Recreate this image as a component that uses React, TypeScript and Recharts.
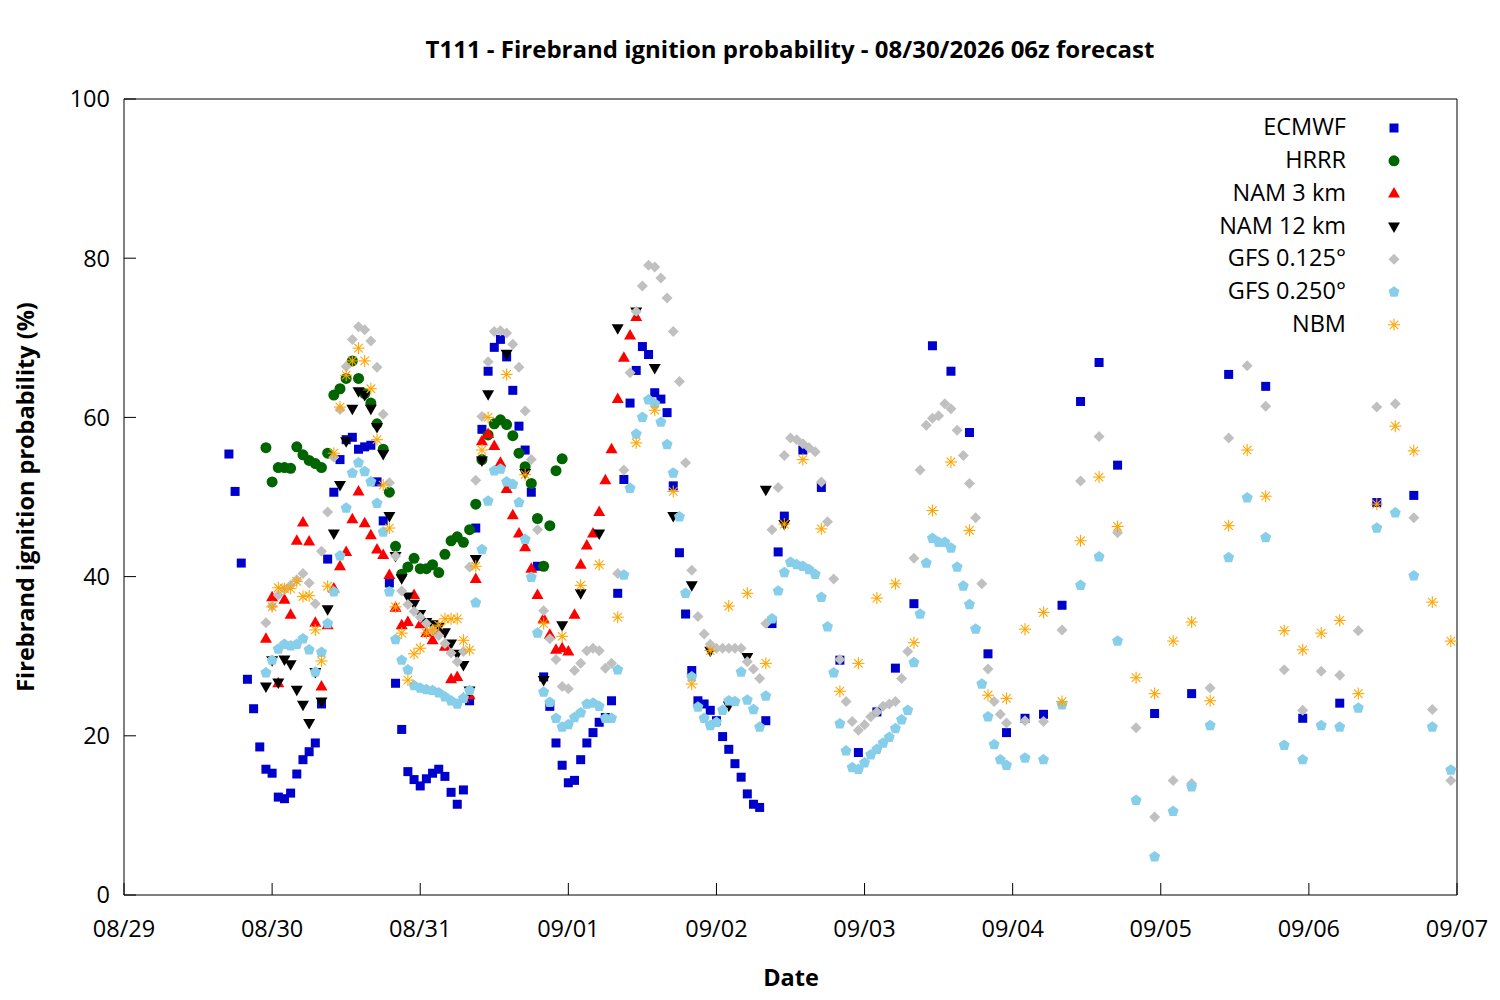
import { ScatterChart, Scatter, XAxis, YAxis } from 'recharts'

// x values are hours since 08/29 00 local time
const dateLabels = ['08/29', '08/30', '08/31', '09/01', '09/02', '09/03', '09/04', '09/05', '09/06', '09/07']
const dayTicks = [0, 24, 48, 72, 96, 120, 144, 168, 192, 216]
const probTicks = [0, 20, 40, 60, 80, 100]

// ECMWF: hourly from h17, 3-hourly from h110, 6-hourly from h167
const ecmwfHourly = [
  55.4, 50.7, 41.7, 27.1, 23.4, 18.6, 15.8, 15.3, 12.3, 12.1,
  12.8, 15.2, 17.0, 18.0, 19.1, 24.0, 42.2, 50.6, 54.7, 57.2,
  57.5, 56.0, 56.3, 56.5, 51.9, 47.0, 39.2, 26.6, 20.8, 15.5,
  14.5, 13.7, 14.6, 15.3, 15.8, 14.9, 12.9, 11.4, 13.2, 24.4,
  46.1, 58.5, 65.8, 68.8, 69.8, 67.6, 63.4, 58.9, 55.9, 50.6,
  41.3, 27.4, 23.7, 19.1, 16.3, 14.1, 14.4, 17.0, 19.1, 20.4,
  21.7, 22.3, 24.4, 37.9, 52.2, 61.8, 65.9, 68.9, 67.9, 63.1,
  62.3, 60.6, 51.4, 43.0, 35.3, 28.2, 24.4, 24.0, 23.2, 21.9,
  19.9, 18.3, 16.5, 14.8, 12.7, 11.4, 11.0, 21.9, 34.1, 43.1, 47.6,
]
const ecmwf3h = [55.9, 51.2, 29.5, 17.9, 23.0, 28.5, 36.6, 69.0, 65.8, 58.1, 30.3, 20.4, 22.2, 22.7, 36.4, 62.0, 66.9, 54.0]
const ecmwf6h = [22.8, 25.3, 65.4, 63.9, 22.2, 24.1, 49.3, 50.2]

// HRRR: hourly h23..h71
const hrrrHourly = [
  56.2, 51.9, 53.7, 53.7, 53.6, 56.3, 55.3, 54.6, 54.2, 53.7,
  55.5, 62.8, 63.6, 64.9, 67.1, 64.9, 63.0, 61.8, 59.2, 56.0,
  50.6, 43.8, 40.3, 41.2, 42.3, 41.0, 41.0, 41.5, 40.5, 42.8,
  44.5, 45.0, 44.3, 45.9, 49.1, 54.7, 57.8, 59.2, 59.7, 59.1,
  57.7, 55.5, 53.8, 51.7, 47.3, 41.3, 46.4, 53.3, 54.8,
]

// NAM 3 km: hourly h23..h83
const nam3Hourly = [
  32.2, 37.4, 26.6, 37.1, 35.2, 44.5, 46.8, 44.4, 34.2, 26.2,
  33.9, 38.5, 41.3, 43.1, 47.2, 50.7, 46.7, 45.2, 43.4, 42.7,
  40.2, 36.1, 33.9, 34.3, 37.7, 34.0, 32.9, 32.0, 33.2, 31.2,
  27.1, 27.4, 24.7, 25.1, 39.7, 57.0, 57.9, 56.4, 54.3, 51.0,
  47.7, 45.4, 43.7, 41.0, 37.7, 34.7, 32.7, 30.8, 31.0, 30.6,
  35.2, 41.5, 43.9, 45.4, 48.1, 52.1, 56.0, 62.3, 67.5, 70.3, 72.6,
]

// NAM 12 km: hourly h23..h59, 3-hourly h62..h107
const nam12Hourly = [
  26.2, 29.5, 26.7, 29.6, 29.0, 25.8, 23.9, 21.6, 28.0, 24.3,
  35.9, 45.4, 51.5, 57.0, 61.1, 63.3, 62.8, 61.1, 58.8, 55.4,
  47.6, 42.6, 39.8, 37.5, 36.6, 35.3, 34.3, 34.0, 33.7, 33.0,
  31.6, 30.3, 28.9, 25.7, 42.2, 54.6, 62.9,
]
const nam12_3h = [68.0, 53.0, 27.0, 33.9, 37.9, 45.4, 71.2, 73.3, 66.2, 47.6, 38.9, 30.7, 23.8, 29.9, 50.9, 46.6]

// GFS 0.125: hourly h23..h143, 3-hourly h146..h215
const gfs125Hourly = [
  34.2, 36.3, 37.7, 38.4, 38.9, 39.6, 40.4, 39.2, 36.6, 43.2,
  48.1, 55.0, 61.0, 66.4, 69.8, 71.4, 71.0, 69.6, 66.3, 60.4,
  51.8, 42.6, 38.2, 36.5, 35.6, 34.9, 34.1, 33.3, 32.6, 31.6,
  30.4, 29.3, 30.6, 41.2, 52.1, 60.1, 67.0, 70.8, 70.9, 70.6,
  69.2, 66.3, 60.8, 54.7, 45.9, 35.7, 32.2, 29.6, 26.2, 25.9,
  28.2, 29.1, 30.7, 31.0, 30.7, 28.5, 29.1, 40.4, 53.4, 65.6,
  73.3, 76.5, 79.1, 78.9, 77.5, 75.0, 70.8, 64.5, 54.3, 40.8,
  35.0, 32.8, 31.5, 31.0, 31.0, 31.0, 31.0, 31.0, 29.3, 28.4,
  27.2, 34.1, 45.9, 51.2, 55.2, 57.4, 57.2, 56.7, 56.2, 55.7,
  51.9, 46.9, 39.7, 29.6, 24.3, 21.8, 20.7, 21.4, 22.4, 23.0,
  23.7, 24.0, 24.3, 27.2, 30.6, 42.3, 53.4, 59.0, 59.9, 60.2,
  61.7, 61.1, 58.4, 55.2, 51.7, 47.4, 39.1, 28.4, 24.3, 22.7, 21.6,
]
const gfs125_3h = [21.9, 21.8, 33.3, 52.0, 57.6, 45.5, 21.0, 9.8, 14.4, 14.0, 26.0, 57.4, 66.5, 61.4, 28.3, 23.2, 28.1, 27.6, 33.2, 61.3, 61.7, 47.4, 23.3, 14.4]

// GFS 0.250: hourly h23..h143, 3-hourly h146..h215
const gfs250Hourly = [
  27.9, 29.5, 30.9, 31.5, 31.3, 31.5, 32.2, 30.8, 28.0, 30.5,
  34.1, 38.1, 42.6, 48.6, 53.0, 54.3, 53.2, 51.9, 49.2, 45.6,
  38.1, 32.1, 29.5, 28.3, 26.3, 26.0, 25.8, 25.7, 25.4, 24.9,
  24.4, 24.0, 24.7, 25.7, 36.7, 43.4, 49.5, 53.3, 53.5, 51.9,
  51.6, 49.3, 44.7, 39.9, 32.9, 25.5, 24.2, 22.2, 21.1, 21.4,
  22.3, 22.9, 24.0, 24.1, 23.7, 22.2, 22.2, 28.3, 40.2, 51.1,
  57.9, 60.0, 62.2, 61.7, 59.4, 56.6, 53.0, 47.5, 37.9, 27.4,
  23.6, 22.2, 21.3, 21.7, 23.2, 24.4, 24.3, 28.0, 24.5, 23.3,
  21.1, 25.0, 34.7, 38.2, 40.5, 41.8, 41.5, 41.3, 40.9, 40.3,
  37.4, 33.7, 27.9, 21.5, 18.1, 16.0, 15.8, 16.6, 17.6, 18.3,
  19.1, 19.8, 20.9, 22.0, 23.2, 29.2, 35.3, 41.7, 44.8, 44.3,
  44.3, 43.6, 41.2, 38.8, 36.5, 33.4, 26.5, 22.4, 18.9, 17.0, 16.3,
]
const gfs250_3h = [17.2, 17.0, 23.9, 38.9, 42.5, 31.9, 11.9, 4.8, 10.5, 13.6, 21.3, 42.4, 49.9, 44.9, 18.8, 17.0, 21.3, 21.1, 23.5, 46.1, 48.0, 40.1, 21.1, 15.7]

// NBM: hourly h24..h59, 3-hourly h62..h215
const nbmHourly = [
  36.2, 38.6, 38.5, 38.5, 39.4, 37.5, 37.6, 33.3, 29.4, 38.8,
  55.5, 61.3, 65.3, 67.1, 68.7, 67.1, 63.6, 57.2, 51.5, 46.1,
  36.2, 32.9, 27.0, 30.3, 31.0, 32.9, 33.3, 33.9, 34.7, 34.7,
  34.7, 32.0, 30.8, 41.3, 55.9, 60.0,
]
const nbm3h = [
  65.4, 52.8, 34.1, 32.5, 38.9, 41.5, 34.9, 56.8, 60.9, 50.7,
  26.5, 30.7, 36.3, 37.9, 29.1, 46.6, 54.7, 46.0, 25.6, 29.1,
  37.3, 39.1, 31.7, 48.3, 54.4, 45.8, 25.1, 24.7, 33.4, 35.5,
  24.3, 44.5, 52.5, 46.3, 27.3, 25.3, 31.9, 34.3, 24.4, 46.4,
  55.9, 50.1, 33.2, 30.8, 32.9, 34.5, 25.3, 49.1, 58.9, 55.8,
  36.8, 31.9,
]

type Pt = { t: number; v: number }

// attach forecast hours to a run of evenly stepped values
function run(start: number, step: number, values: number[]): Pt[] {
  return values.map((v, i) => ({ t: start + i * step, v }))
}

const ecmwf = [...run(17, 1, ecmwfHourly), ...run(110, 3, ecmwf3h), ...run(167, 6, ecmwf6h)]
const hrrr = run(23, 1, hrrrHourly)
const nam3 = run(23, 1, nam3Hourly)
const nam12 = [...run(23, 1, nam12Hourly), ...run(62, 3, nam12_3h)]
const gfs125 = [...run(23, 1, gfs125Hourly), ...run(146, 3, gfs125_3h)]
const gfs250 = [...run(23, 1, gfs250Hourly), ...run(146, 3, gfs250_3h)]
const nbm = [...run(24, 1, nbmHourly), ...run(62, 3, nbm3h)]

const FONT = '"Open Sans", "Noto Sans", sans-serif'
const FS = 23.5

const C = {
  ecmwf: '#0000cd',
  hrrr: '#006400',
  nam3: '#ff0000',
  nam12: '#000000',
  gfs125: '#c0c0c0',
  gfs250: '#87ceeb',
  nbm: '#ffa500',
}

type Marker = (cx: number, cy: number, color: string) => JSX.Element

const square: Marker = (cx, cy, c) => <rect x={cx - 4.5} y={cy - 4.5} width={9} height={9} fill={c} />
const circle: Marker = (cx, cy, c) => <circle cx={cx} cy={cy} r={5.5} fill={c} />
const triUp: Marker = (cx, cy, c) => (
  <polygon points={`${cx},${cy - 6.5} ${cx + 6},${cy + 4} ${cx - 6},${cy + 4}`} fill={c} />
)
const triDown: Marker = (cx, cy, c) => (
  <polygon points={`${cx},${cy + 6.5} ${cx + 6},${cy - 4} ${cx - 6},${cy - 4}`} fill={c} />
)
const diamond: Marker = (cx, cy, c) => (
  <polygon points={`${cx},${cy - 5.5} ${cx + 5.5},${cy} ${cx},${cy + 5.5} ${cx - 5.5},${cy}`} fill={c} />
)
const pentagon: Marker = (cx, cy, c) => {
  const pts = [0, 1, 2, 3, 4]
    .map((k) => {
      const a = -Math.PI / 2 + (k * 2 * Math.PI) / 5
      return `${cx + 5.8 * Math.cos(a)},${cy + 5.8 * Math.sin(a)}`
    })
    .join(' ')
  return <polygon points={pts} fill={c} />
}
const asterisk: Marker = (cx, cy, c) => {
  const r = 6
  const d = r * 0.7071
  return (
    <g stroke={c} strokeWidth={1.1}>
      <line x1={cx - r} y1={cy} x2={cx + r} y2={cy} />
      <line x1={cx} y1={cy - r} x2={cx} y2={cy + r} />
      <line x1={cx - d} y1={cy - d} x2={cx + d} y2={cy + d} />
      <line x1={cx - d} y1={cy + d} x2={cx + d} y2={cy - d} />
    </g>
  )
}

const series = [
  { name: 'ECMWF', data: ecmwf, color: C.ecmwf, marker: square },
  { name: 'HRRR', data: hrrr, color: C.hrrr, marker: circle },
  { name: 'NAM 3 km', data: nam3, color: C.nam3, marker: triUp },
  { name: 'NAM 12 km', data: nam12, color: C.nam12, marker: triDown },
  { name: 'GFS 0.125°', data: gfs125, color: C.gfs125, marker: diamond },
  { name: 'GFS 0.250°', data: gfs250, color: C.gfs250, marker: pentagon },
  { name: 'NBM', data: nbm, color: C.nbm, marker: asterisk },
]

const W = 1484
const H = 984

export default function App() {
  return (
    <div style={{ position: 'relative', width: W, height: H, fontFamily: FONT }}>
      <ScatterChart width={W} height={H} margin={{ top: 90, right: 34, bottom: 57, left: 56 }}>
        <XAxis
          type="number"
          dataKey="t"
          domain={[0, 216]}
          ticks={dayTicks}
          interval={0}
          tickFormatter={(t: number) => dateLabels[dayTicks.indexOf(t)] ?? ''}
          height={40}
          tickSize={-12}
          tickMargin={37}
          stroke="#000"
          tick={{ fill: '#000', fontSize: FS, fontFamily: FONT }}
          allowDataOverflow
        />
        <XAxis
          xAxisId="top"
          orientation="top"
          type="number"
          dataKey="t"
          domain={[0, 216]}
          ticks={dayTicks}
          interval={0}
          height={1}
          tickSize={-12}
          tick={false}
          stroke="#000"
        />
        <YAxis
          type="number"
          dataKey="v"
          domain={[0, 100]}
          ticks={probTicks}
          interval={0}
          width={60}
          tickSize={-12}
          tickMargin={26}
          stroke="#000"
          tick={{ fill: '#000', fontSize: FS, fontFamily: FONT }}
        />
        <YAxis
          yAxisId="right"
          orientation="right"
          type="number"
          dataKey="v"
          domain={[0, 100]}
          ticks={probTicks}
          interval={0}
          width={1}
          tickSize={-12}
          tick={false}
          stroke="#000"
        />
        {series.map((s) => (
          <Scatter
            key={s.name}
            name={s.name}
            data={s.data}
            fill={s.color}
            isAnimationActive={false}
            shape={(p: any) => s.marker(p.cx, p.cy, s.color)}
          />
        ))}
      </ScatterChart>

      <svg
        width={W}
        height={H}
        style={{ position: 'absolute', left: 0, top: 0, pointerEvents: 'none' }}
        fontFamily={FONT}
      >
        <text x={782} y={44} textAnchor="middle" dominantBaseline="middle" fontSize={24} fontWeight={700}>
          T111 - Firebrand ignition probability - 08/30/2026 06z forecast
        </text>
        <text x={783} y={972} textAnchor="middle" dominantBaseline="middle" fontSize={FS} fontWeight={700}>
          Date
        </text>
        <text
          x={20}
          y={489}
          textAnchor="middle"
          dominantBaseline="middle"
          fontSize={FS}
          fontWeight={700}
          transform="rotate(-90 20 489)"
        >
          Firebrand ignition probability (%)
        </text>
        {series.map((s, i) => {
          const y = 120 + i * 32.8
          return (
            <g key={s.name}>
              <text x={1338} y={y + 1} textAnchor="end" dominantBaseline="middle" fontSize={FS}>
                {s.name}
              </text>
              {s.marker(1386, y, s.color)}
            </g>
          )
        })}
      </svg>
    </div>
  )
}
